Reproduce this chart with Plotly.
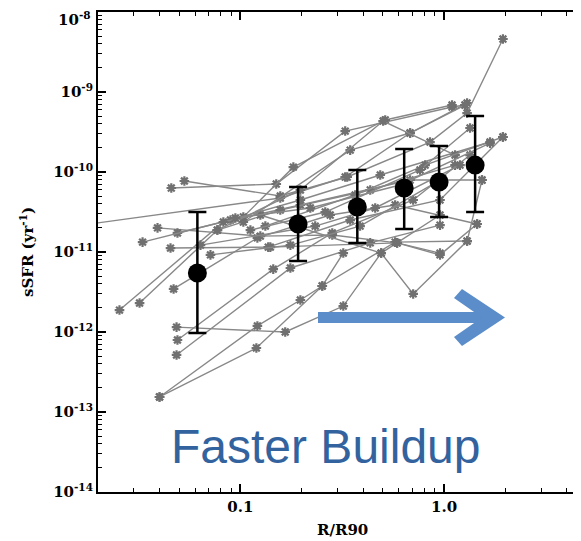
import math
import plotly.graph_objects as go

# ---------------- data ----------------
gal_R = [
    [0.011, 0.157, 0.327, 0.681, 1.297],
    [0.0531, 0.157, 0.3346, 0.853, 1.297, 1.945],
    [0.0458, 0.150, 0.327, 1.094, 1.267],
    [0.0392, 0.1253, 0.2825, 0.588, 0.955],
    [0.0491, 0.1034, 0.182, 0.514, 1.094],
    [0.0331, 0.0894, 0.197, 0.486, 1.681],
    [0.0454, 0.137, 0.346, 0.955, 1.945],
    [0.0255, 0.0825, 0.197, 0.681, 1.535],
    [0.032, 0.0771, 0.157, 0.434, 1.132],
    [0.047, 0.1212, 0.276, 0.575, 1.452],
    [0.0486, 0.166, 0.32, 0.491, 0.955],
    [0.0491, 0.145, 0.2825, 0.705, 1.341],
    [0.0486, 0.176, 0.434, 0.955],
    [0.0401, 0.1212, 0.197, 0.2523, 0.32],
    [0.0401, 0.1198, 0.2523, 0.575, 1.297],
    [0.1253, 0.491, 0.705, 1.297, 1.535],
    [0.1403, 0.588, 0.955, 1.452],
    [0.1034, 0.346, 0.681, 1.267],
    [0.0771, 0.197, 0.502, 1.132],
    [0.1326, 0.366, 0.807, 1.945],
    [0.0945, 0.2205, 0.608, 1.681],
    [0.112, 0.261, 0.762, 1.341],
    [0.0637, 0.233, 0.459, 1.197],
    [0.0713, 0.176, 0.387, 0.955],
]
gal_sSFR = [
    [1.88e-11, 4.73e-11, 8.66e-11, 3.07e-10, 7.29e-10],
    [7.72e-11, 5.01e-11, 8.66e-11, 2.37e-10, 5.46e-10, 4.6e-09],
    [6.31e-11, 7.08e-11, 3.25e-10, 6.49e-10, 6.88e-10],
    [2.0e-11, 1.58e-11, 1.63e-11, 1.30e-11, 9.7e-12],
    [1.73e-11, 2.74e-11, 1.15e-10, 4.47e-10, 6.88e-10],
    [1.33e-11, 2.51e-11, 4.47e-11, 9.17e-11, 2.37e-10],
    [1.12e-11, 1.15e-11, 2.51e-11, 4.47e-11, 2.74e-10],
    [1.88e-12, 2.37e-11, 3.87e-11, 7.94e-11, 7.94e-11],
    [2.30e-12, 1.88e-11, 3.35e-11, 5.96e-11, 1.22e-10],
    [3.45e-12, 1.50e-11, 2.9e-11, 3.87e-11, 2.24e-11],
    [1.15e-12, 1.0e-12, 2.11e-12, 9.7e-12, 2.9e-11],
    [7.94e-13, 6.1e-12, 1.73e-11, 4.47e-11, 1.63e-10],
    [5.16e-13, 6.31e-12, 1.30e-11, 2.17e-11],
    [1.54e-13, 1.19e-12, 2.51e-12, 3.76e-12, 9.7e-12],
    [1.54e-13, 6.31e-13, 3.76e-12, 1.33e-11, 1.37e-11],
    [2.9e-11, 9.7e-12, 2.99e-12, 1.37e-11, 7.94e-11],
    [1.15e-11, 1.30e-11, 9.2e-12, 2.24e-11],
    [2.37e-11, 1.88e-10, 3.07e-10, 6.88e-10],
    [1.88e-11, 5.96e-11, 4.34e-10, 1.63e-10],
    [2.11e-11, 5.16e-11, 1.22e-10, 2.74e-10],
    [2.66e-11, 3.55e-11, 6.88e-11, 2.30e-10],
    [1.88e-11, 3.16e-11, 1.06e-10, 3.55e-10],
    [1.22e-11, 2.11e-11, 3.55e-11, 1.22e-10],
    [9.2e-12, 1.22e-11, 2.11e-11, 7.94e-11],
]

mean_R = [0.0615, 0.192, 0.375, 0.637, 0.945, 1.42]
mean_sSFR = [5.46e-12, 2.24e-11, 3.65e-11, 6.3e-11, 7.5e-11, 1.22e-10]
mean_hi = [3.16e-11, 6.5e-11, 1.06e-10, 1.94e-10, 2.11e-10, 5.0e-10]
mean_lo = [9.7e-13, 7.7e-12, 1.3e-11, 1.94e-11, 2.74e-11, 3.16e-11]

x_tickvals = [0.1, 1.0]
x_ticktext = ["0.1", "1.0"]
y_tickvals = [1e-14, 1e-13, 1e-12, 1e-11, 1e-10, 1e-9, 1e-8]
y_ticktext = ["10<sup>-14</sup>", "10<sup>-13</sup>", "10<sup>-12</sup>", "10<sup>-11</sup>",
              "10<sup>-10</sup>", "10<sup>-9</sup>", "10<sup>-8</sup>"]

x_title = "R/R90"
y_title = "sSFR (yr<sup>-1</sup>)"
label_text = "Faster Buildup"

# ---------------- geometry (page pixels; body has an 8px margin) ----------------
OFF = 8
W, H = 581 - OFF, 541 - OFF
P_LEFT, P_RIGHT, P_TOP, P_BOTTOM = 98, 581, 12, 492   # plot box in page pixels
ML = P_LEFT - OFF
MR = (581 - P_RIGHT)
MT = P_TOP - OFF
MB = (541 - OFF) - (P_BOTTOM - OFF)
PW, PH = P_RIGHT - P_LEFT, P_BOTTOM - P_TOP


def px(x):
    return (x - P_LEFT) / PW


def py(y):
    return (P_BOTTOM - y) / PH


fig = go.Figure()

for R, s in zip(gal_R, gal_sSFR):
    fig.add_trace(go.Scatter(
        x=R, y=s, mode="lines+markers",
        line=dict(color="#888888", width=1.4),
        marker=dict(symbol="asterisk-open", size=8, color="#707070",
                    line=dict(color="#707070", width=2.2)),
        showlegend=False, hoverinfo="skip",
    ))

fig.add_trace(go.Scatter(
    x=mean_R, y=mean_sSFR, mode="markers",
    marker=dict(symbol="circle", size=19, color="black"),
    error_y=dict(type="data", symmetric=False,
                 array=[h - m for h, m in zip(mean_hi, mean_sSFR)],
                 arrayminus=[m - l for m, l in zip(mean_sSFR, mean_lo)],
                 color="black", thickness=2.5, width=9),
    showlegend=False, hoverinfo="skip",
))

serif = dict(family="DejaVu Serif", size=15, color="black", weight="bold")

minor_x = [k * 10 ** d for d in (-2, -1) for k in range(2, 10)] + [2, 3, 4]
minor_y = [k * 10.0 ** d for d in range(-14, -8) for k in range(2, 10)]

# top tick label is drawn slightly below its tick (as in the reference) via an annotation
axis_ticktext = y_ticktext[:-1] + [""]

fig.update_xaxes(
    type="log", range=[math.log10(0.02), math.log10(4.70)],
    tickmode="array", tickvals=x_tickvals, ticktext=x_ticktext,
    ticks="inside", ticklen=8, tickwidth=1.5, tickcolor="black",
    showline=True, linewidth=2, linecolor="black", mirror="ticks",
    showgrid=False, zeroline=False, tickfont=serif, automargin=False,
    minor=dict(tickmode="array", tickvals=minor_x, ticks="inside", ticklen=4,
               tickwidth=1.2, tickcolor="black", showgrid=False),
)
fig.update_yaxes(
    type="log", range=[-14.0004, -7.9996],
    tickmode="array", tickvals=y_tickvals, ticktext=axis_ticktext,
    ticks="inside", ticklen=8, tickwidth=1.5, tickcolor="black",
    showline=True, linewidth=2, linecolor="black",
    showgrid=False, zeroline=False, tickfont=serif,
    ticklabeloverflow="allow", automargin=False,
    minor=dict(tickmode="array", tickvals=minor_y, ticks="inside", ticklen=4,
               tickwidth=1.2, tickcolor="black", showgrid=False),
)

fig.add_annotation(x=px(93), y=py(19), xref="paper", yref="paper",
                   text=y_ticktext[-1], showarrow=False, font=serif,
                   xanchor="right", yanchor="middle")

# axis titles as annotations
fig.add_annotation(x=px(342), y=py(530), xref="paper", yref="paper",
                   text=x_title, showarrow=False, font=serif,
                   xanchor="center", yanchor="middle")
fig.add_annotation(x=px(27), y=py(252), xref="paper", yref="paper",
                   text=y_title, showarrow=False, font=serif, textangle=-90,
                   xanchor="center", yanchor="middle")

# "Faster Buildup" label
fig.add_annotation(x=px(326), y=py(446), xref="paper", yref="paper",
                   text=label_text, showarrow=False,
                   font=dict(family="Liberation Sans, Arial", size=48, color="#33639E"),
                   xanchor="center", yanchor="middle")

# blue arrow (shaft + chevron head)
arrow_col = "#5A8DC9"
shaft = [(318, 312), (488, 312), (488, 323), (318, 323)]
head = [(505, 317.5), (462, 289), (454, 298), (482, 317.5), (454, 337), (462, 346)]


def poly(pts):
    return "M " + " L ".join(f"{px(a):.5f},{py(b):.5f}" for a, b in pts) + " Z"


for pts in (shaft, head):
    fig.add_shape(type="path", path=poly(pts), xref="paper", yref="paper",
                  fillcolor=arrow_col, line=dict(color=arrow_col, width=0))

fig.update_layout(
    width=W, height=H,
    margin=dict(l=ML, r=MR, t=MT, b=MB, autoexpand=False),
    paper_bgcolor="white", plot_bgcolor="white",
    showlegend=False,
)

fig.write_html("out.html")
